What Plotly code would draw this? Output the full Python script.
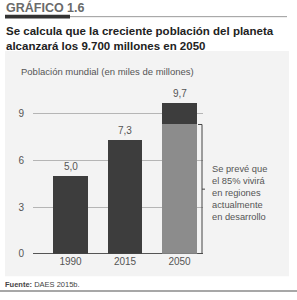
import plotly.graph_objects as go

# ---- data ----
years = ["1990", "2015", "2050"]
totals = [5.0, 7.3, 9.7]
labels = ["5,0", "7,3", "9,7"]
developing_2050 = 8.3   # part living in currently developing regions (≈85%)
y_ticks = [0, 3, 6, 9]

W, H = 297, 300
def px(x):
    return x / W
def py(y):
    return 1 - y / H

light = [0, 0, developing_2050]
dark = [t - l for t, l in zip(totals, light)]

fig = go.Figure()
fig.add_trace(go.Bar(x=years, y=light, marker=dict(color="#8c8c8c", line=dict(width=0)),
                     width=0.64, hoverinfo="skip"))
fig.add_trace(go.Bar(x=years, y=dark, marker=dict(color="#3d3d3d", line=dict(width=0)),
                     width=0.64, hoverinfo="skip"))

shapes = []
# panel background
shapes.append(dict(type="rect", xref="paper", yref="paper", x0=px(5), x1=px(289),
                   y0=py(282), y1=py(52), fillcolor="#f3f3f3", line=dict(width=0), layer="below"))
# header rule
shapes.append(dict(type="line", xref="paper", yref="paper", x0=px(5), x1=px(287),
                   y0=py(17), y1=py(17), line=dict(color="#9a9a9a", width=1)))
shapes.append(dict(type="rect", xref="paper", yref="paper", x0=px(5), x1=px(70),
                   y0=py(19), y1=py(15), fillcolor="#333333", line=dict(width=0)))
# bottom rule
shapes.append(dict(type="line", xref="paper", yref="paper", x0=0, x1=1,
                   y0=py(297), y1=py(297), line=dict(color="#8a8a8a", width=1.5)))
# bracket
bx = px(202)
shapes.append(dict(type="line", xref="paper", yref="y", x0=bx, x1=bx, y0=0, y1=developing_2050,
                   line=dict(color="#444444", width=1)))
shapes.append(dict(type="line", xref="paper", yref="y", x0=px(198), x1=bx, y0=developing_2050,
                   y1=developing_2050, line=dict(color="#444444", width=1)))
shapes.append(dict(type="line", xref="paper", yref="y", x0=px(198), x1=bx, y0=0, y1=0,
                   line=dict(color="#444444", width=1)))
shapes.append(dict(type="line", xref="paper", yref="y", x0=bx, x1=px(205),
                   y0=developing_2050 / 2, y1=developing_2050 / 2,
                   line=dict(color="#444444", width=1)))

ann = []
ann.append(dict(text="<b>GRÁFICO 1.6</b>", xref="paper", yref="paper", x=px(4), y=py(8),
                xanchor="left", yanchor="middle", showarrow=False,
                font=dict(size=12.5, color="#6a6a6a")))
ann.append(dict(text="<b>Se calcula que la creciente población del planeta<br>alcanzará los 9.700 millones en 2050</b>",
                xref="paper", yref="paper", x=px(4), y=py(23), xanchor="left", yanchor="top",
                align="left", showarrow=False, font=dict(size=11.5, color="#222222")))
ann.append(dict(text="Población mundial (en miles de millones)", xref="paper", yref="paper",
                x=px(19), y=py(73), xanchor="left", yanchor="middle", showarrow=False,
                font=dict(size=9.5, color="#555555")))
ann.append(dict(text="Se prevé que<br>el 85% vivirá<br>en regiones<br>actualmente<br>en desarrollo",
                xref="paper", yref="paper", x=px(210), y=py(165), xanchor="left", yanchor="top",
                align="left", showarrow=False, font=dict(size=9.3, color="#555555")))
ann.append(dict(text="<b>Fuente:</b> DAES 2015b.", xref="paper", yref="paper", x=px(3), y=py(290),
                xanchor="left", yanchor="middle", showarrow=False,
                font=dict(size=7.5, color="#444444")))
for i, (t, lab) in enumerate(zip(totals, labels)):
    ann.append(dict(text=lab, x=i, y=t, xref="x", yref="y", yanchor="bottom", yshift=2,
                    showarrow=False, font=dict(size=10, color="#555555")))

fig.update_layout(
    width=W, height=H, margin=dict(l=0, r=0, t=0, b=0),
    paper_bgcolor="white", plot_bgcolor="rgba(0,0,0,0)",
    barmode="stack", bargap=0.36, showlegend=False,
    font=dict(family="Liberation Sans, Arial, sans-serif"),
    shapes=shapes, annotations=ann,
    xaxis=dict(type="category", domain=[px(33), px(203)], range=[-0.688, 2.431], showgrid=False,
               tickfont=dict(size=10, color="#555555"), ticks="", showline=False,
               zeroline=False, fixedrange=True),
    yaxis=dict(domain=[py(259), py(100)], range=[0, 10], tickvals=y_ticks,
               gridcolor="#b5b5b5", gridwidth=1, zeroline=True, zerolinecolor="#555555",
               zerolinewidth=1, tickfont=dict(size=10, color="#555555"), ticks="",
               ticklabelstandoff=8, fixedrange=True),
)
fig.write_html("out.html")
